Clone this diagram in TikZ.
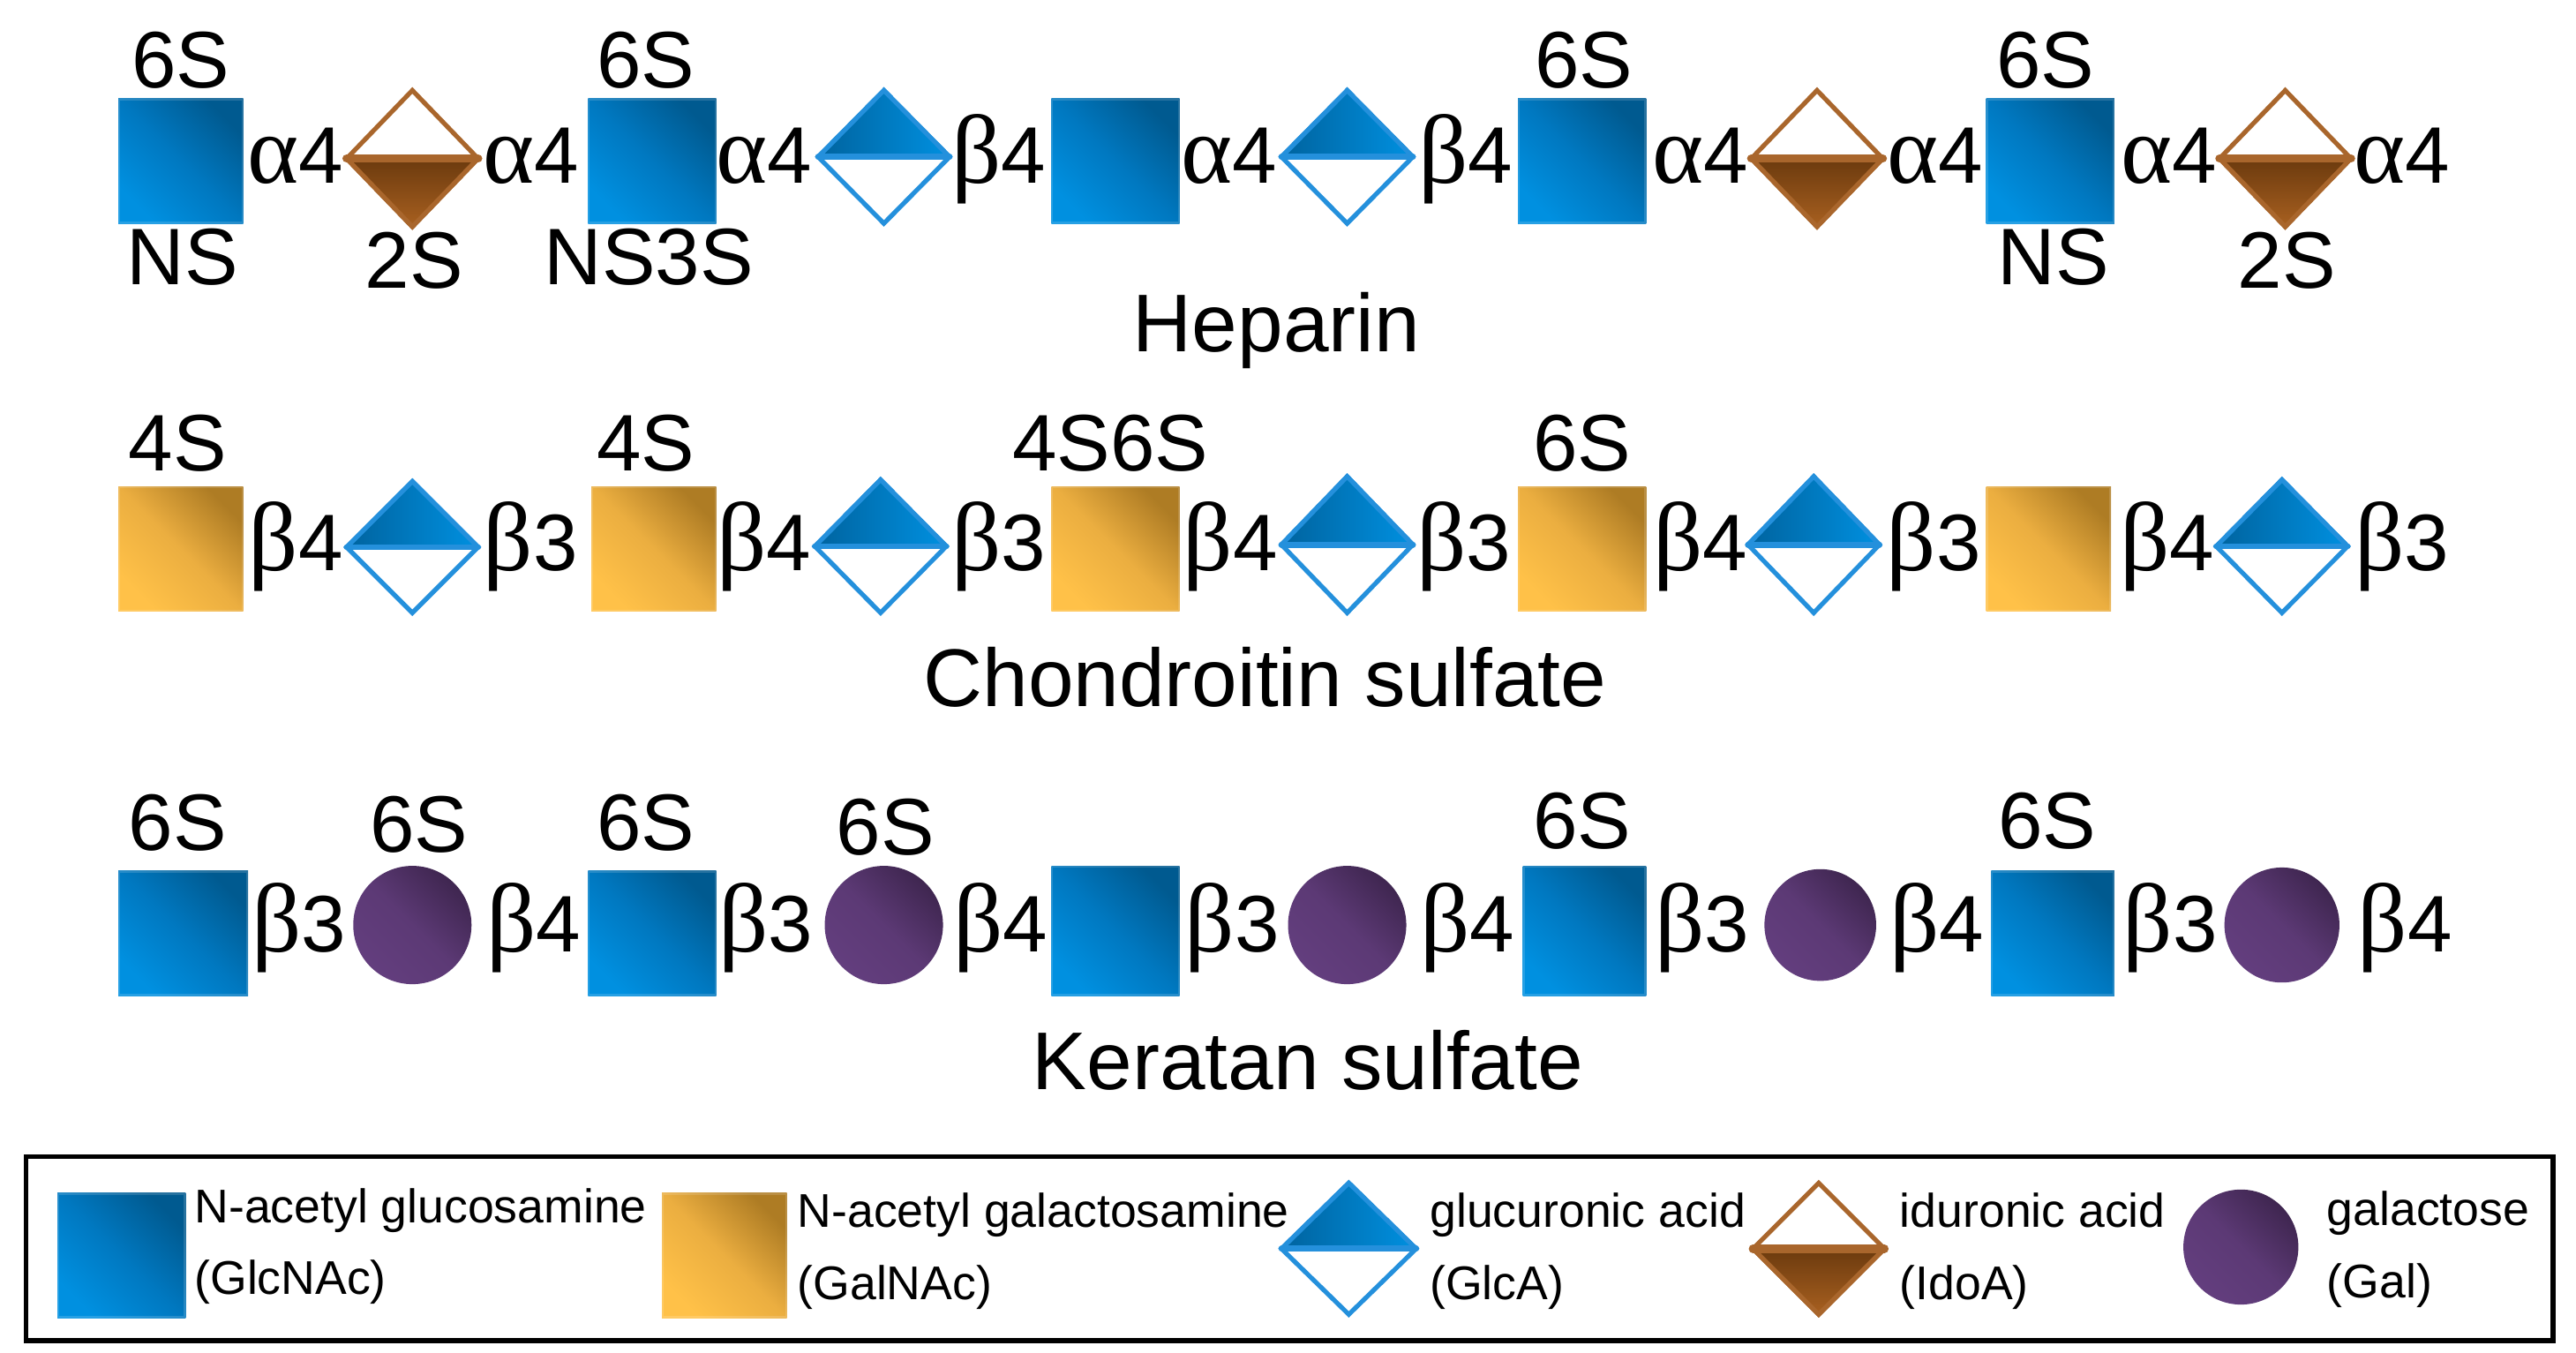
\documentclass[tikz,border=0pt]{standalone}
\usepackage{fontspec}
\setmainfont{Liberation Sans}
\newfontfamily\grkfont{Liberation Serif}[Scale=1.22]
\usetikzlibrary{shapes.geometric}
\definecolor{bluelo}{HTML}{0090E0}
\definecolor{bluemid}{HTML}{0078C0}
\definecolor{bluehi}{HTML}{005A90}
\definecolor{blueedge}{HTML}{2490DC}
\definecolor{goldlo}{HTML}{FFC148}
\definecolor{goldmid}{HTML}{EBAE40}
\definecolor{goldhi}{HTML}{AE7C24}
\definecolor{brownedge}{HTML}{A9662C}
\definecolor{brownhi}{HTML}{6B3A0E}
\definecolor{brownlo}{HTML}{A86020}
\definecolor{purplelo}{HTML}{633E7E}
\definecolor{purplehi}{HTML}{3F2650}
\newcommand{\aF}{{\grkfont α}4}
\newcommand{\bF}{{\grkfont β}4}
\newcommand{\bT}{{\grkfont β}3}
\def\U{0.4654pt}
\tikzset{
  lab/.style={anchor=base,inner sep=0pt,font=\fontsize{22.7}{24}\selectfont},
  ttl/.style={anchor=base,inner sep=0pt,font=\fontsize{23.2}{25}\selectfont},
  leg/.style={anchor=base west,inner sep=0pt,font=\fontsize{13.4}{15}\selectfont},
  blueglc/.style={shade,bottom color=bluelo,top color=bluehi,middle color=bluemid,shading angle=-45,draw=white,draw opacity=0.15,line width=1pt,rectangle,inner sep=0pt,outer sep=0pt},
  goldgal/.style={shade,bottom color=goldlo,top color=goldhi,middle color=goldmid,shading angle=-45,draw=white,draw opacity=0.15,line width=1pt,rectangle,inner sep=0pt,outer sep=0pt},
  purplegal/.style={circle,shade,bottom color=purplelo,top color=purplehi,middle color=purplelo!80!purplehi,shading angle=-45,inner sep=0pt,outer sep=0pt},
  dia/.style={diamond,fill=white,line width=1.3pt,inner sep=0pt,outer sep=0pt,aspect=1},
  blueband/.style={draw=blueedge,line width=1.7pt,line cap=round},
  brownband/.style={draw=brownedge,line width=2.4pt,line cap=round},
  bluehalf/.style={left color=bluehi!70!bluemid,right color=bluelo},
  brownhalf/.style={top color=brownhi,bottom color=brownlo},
}
% name, x1, y1, x2, y2
\newcommand{\SqB}[5]{\node[blueglc,minimum width={(#4-#2)*\U},minimum height={(#5-#3)*\U}] (#1) at ({(#2+#4)/2},{(#3+#5)/2}) {};}
\newcommand{\SqG}[5]{\node[goldgal,minimum width={(#4-#2)*\U},minimum height={(#5-#3)*\U}] (#1) at ({(#2+#4)/2},{(#3+#5)/2}) {};}
\newcommand{\GlcA}[5]{\node[dia,draw=blueedge,minimum width={(#4-#2)*\U},minimum height={(#5-#3)*\U}] (#1) at ({(#2+#4)/2},{(#3+#5)/2}) {};
  \path[bluehalf] (#1.west) -- (#1.east) -- (#1.north) -- cycle;
  \draw[draw=blueedge,line width=1.3pt,line join=miter] (#1.west) -- (#1.north) -- (#1.east);
  \draw[blueband] (#1.west) -- (#1.east);}
\newcommand{\IdoA}[5]{\node[dia,draw=brownedge,minimum width={(#4-#2)*\U},minimum height={(#5-#3)*\U}] (#1) at ({(#2+#4)/2},{(#3+#5)/2}) {};
  \path[brownhalf] (#1.west) -- (#1.east) -- (#1.south) -- cycle;
  \draw[draw=brownedge,line width=1.3pt,line join=miter] (#1.west) -- (#1.south) -- (#1.east);
  \draw[brownband] (#1.west) -- (#1.east);}
\newcommand{\Gal}[4]{\node[purplegal,minimum size={2*#4*\U}] (#1) at (#2,#3) {};}
\begin{document}
\begin{tikzpicture}[x=0.4654pt,y=-0.4654pt]
\useasboundingbox (0,0) rectangle (1568,823.4);
% Heparin row
\SqB{a1}{72}{60}{148}{136}
\IdoA{a2}{211}{55}{291}{138}
\SqB{a3}{358}{60}{436}{136}
\GlcA{a4}{498}{55}{578}{136}
\SqB{a5}{640}{60}{718}{136}
\GlcA{a6}{780}{55}{860}{136}
\SqB{a7}{924}{60}{1002}{136}
\IdoA{a8}{1066}{55}{1146}{138}
\SqB{a9}{1209}{60}{1287}{136}
\IdoA{a10}{1351}{55}{1431}{138}
% Chondroitin row
\SqG{b1}{72}{296}{148}{372}
\GlcA{b2}{211}{293}{291}{373}
\SqG{b3}{360}{296}{436}{372}
\GlcA{b4}{496}{292}{576}{373}
\SqG{b5}{640}{296}{718}{372}
\GlcA{b6}{780}{290}{860}{373}
\SqG{b7}{924}{296}{1002}{372}
\GlcA{b8}{1064}{290}{1144}{373}
\SqG{b9}{1209}{296}{1285}{372}
\GlcA{b10}{1349}{292}{1429}{373}
% Keratan row
\SqB{c1}{72}{530}{151}{606}
\Gal{c2}{251}{563}{36}
\SqB{c3}{358}{530}{436}{606}
\Gal{c4}{538}{563}{36}
\SqB{c5}{640}{527}{718}{606}
\Gal{c6}{820}{563}{36}
\SqB{c7}{927}{527}{1002}{606}
\Gal{c8}{1108}{563}{34}
\SqB{c9}{1212}{530}{1287}{606}
\Gal{c10}{1389}{563}{35}
% labels
\foreach \x/\y/\t [count=\i] in {
 110/37/6S,111/157/NS,180/95/\aF,252/159/2S,323/95/\aF,393/37/6S,395/157/NS3S,465/95/\aF,
 608/95/\bF,748/95/\aF,892/95/\bF,964/37/6S,1035/95/\aF,1178/95/\aF,1245/37/6S,1250/157/NS,
 1320/95/\aF,1392/159/2S,1462/95/\aF,
 108/270/4S,393/270/4S,676/270/4S6S,963/270/6S,
 180/331/\bF,323/331/\bT,465/331/\bF,608/331/\bT,749/331/\bF,891/331/\bT,1035/331/\bF,1177/331/\bT,1319/331/\bF,1462/331/\bT,
 108/501/6S,255/502/6S,393/501/6S,539/504/6S,963/500/6S,1246/500/6S,
 182/563/\bT,325/563/\bF,466/563/\bT,609/563/\bF,750/563/\bT,893/563/\bF,1036/563/\bT,1179/563/\bF,1321/563/\bT,1464/563/\bF}
 {\node[lab] (t\i) at (\x,\y+16.5) {\t};}
\node[ttl] (hep) at (777,214) {Heparin};
\node[ttl] (cho) at (770,430) {Chondroitin sulfate};
\node[ttl] (ker) at (796,663) {Keratan sulfate};
% legend
\node[draw=black,line width=1.3pt,rectangle,inner sep=0pt,minimum width={1538*\U},minimum height={112*\U}] (legbox) at (785,760) {};
\SqB{k1}{35}{726}{113}{802}
\SqG{k2}{403}{726}{479}{802}
\GlcA{k3}{780}{720}{862}{800}
\IdoA{k4}{1067}{720}{1147}{800}
\Gal{k5}{1364}{759}{35}
\node[leg] (g1) at (118,744.5) {N-acetyl glucosamine};
\node[leg] (g2) at (118,788) {(GlcNAc)};
\node[leg] (g3) at (485,747) {N-acetyl galactosamine};
\node[leg] (g4) at (485,791) {(GalNAc)};
\node[leg] (g5) at (870,747) {glucuronic acid};
\node[leg] (g6) at (870,791) {(GlcA)};
\node[leg] (g7) at (1156,747) {iduronic acid};
\node[leg] (g8) at (1156,791) {(IdoA)};
\node[leg] (g9) at (1416,745.6) {galactose};
\node[leg] (g10) at (1416,790) {(Gal)};
\end{tikzpicture}
\end{document}
